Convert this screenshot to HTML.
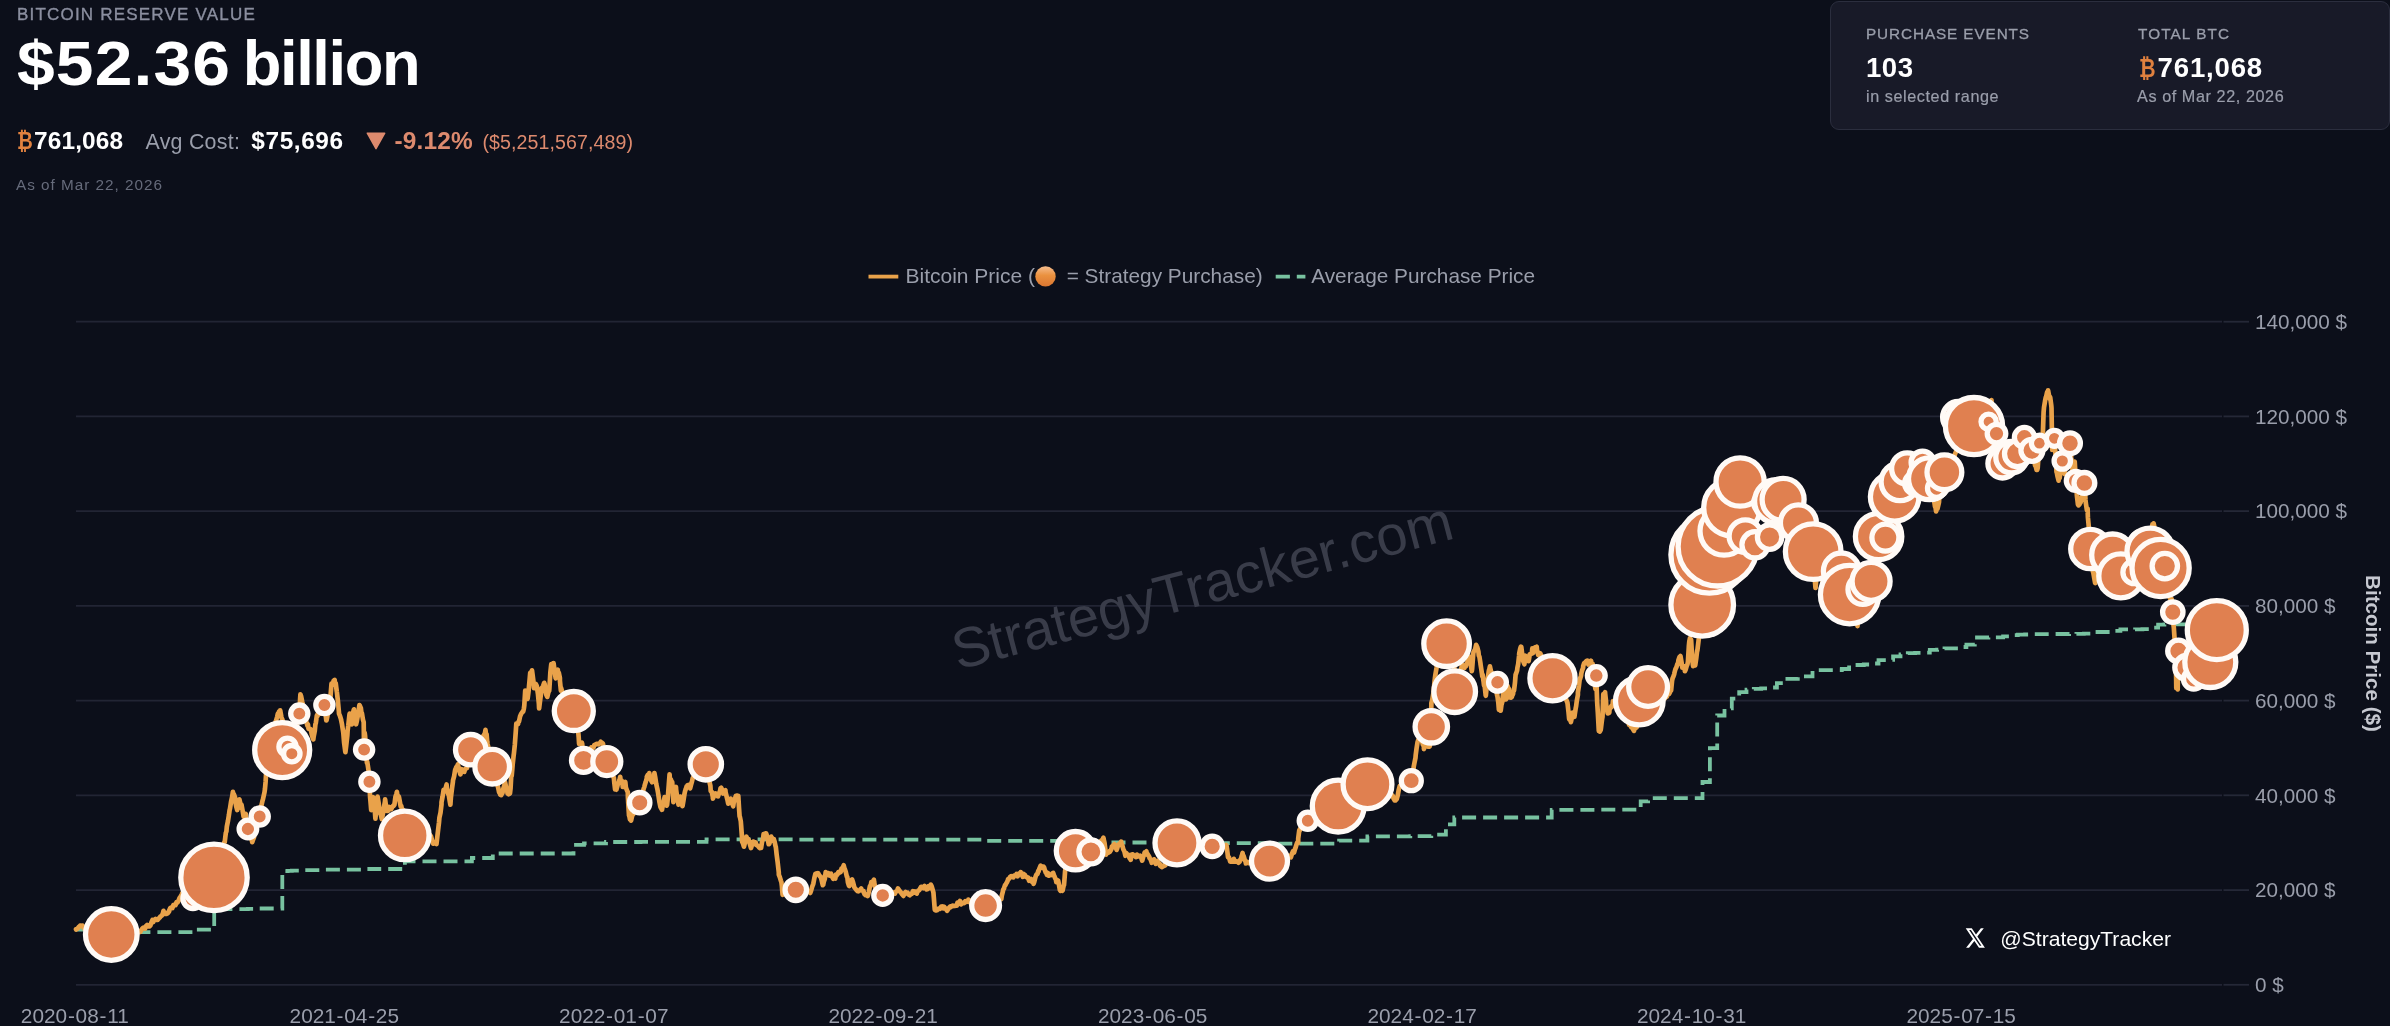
<!DOCTYPE html><html><head><meta charset="utf-8"><title>Bitcoin Reserve Value</title><style>
*{margin:0;padding:0;box-sizing:border-box}
html,body{width:2390px;height:1026px;overflow:hidden;background:#0c0f1a}
body{font-family:"Liberation Sans",sans-serif;position:relative;color:#fff}
.abs{position:absolute;white-space:nowrap;line-height:1}
.lbl{left:16.5px;top:5.6px;font-size:17px;color:#8b8fa0;letter-spacing:1.2px;-webkit-text-stroke:.35px #8b8fa0}
.big{left:17.2px;top:32.4px;font-size:63.3px;font-weight:700;color:#fff}
.row{left:0;top:126.5px;font-size:24.4px;color:#fff;height:28px}
.row span{position:absolute;top:0;line-height:28px}
.asof{left:16.4px;top:176.8px;font-size:15.3px;color:#666b7b;letter-spacing:.98px}
.card{position:absolute;left:1830px;top:1px;width:559.5px;height:129px;background:#181a28;border:1.5px solid #2b2e3e;border-radius:9px}
.c1{font-size:15.3px;color:#9a9eab;letter-spacing:.9px;-webkit-text-stroke:.3px #9a9eab}
.c2{font-size:27.6px;font-weight:700;color:#fff}
.c3{font-size:16.2px;color:#9a9eab;letter-spacing:.58px;-webkit-text-stroke:.2px #9a9eab}
svg{position:absolute;left:0;top:0;will-change:transform}
.abs{will-change:transform}
</style></head><body>
<div class="abs lbl">BITCOIN RESERVE VALUE</div>
<div class="abs big"><span style="display:inline-block;transform:scaleX(1.07);transform-origin:0 50%;letter-spacing:1.1px">$52.36</span><span style="position:absolute;left:225.8px;top:0;letter-spacing:-1.42px">billion</span></div>
<div class="abs row"><span style="left:16.8px;color:#e0813f;font-weight:700;font-size:23px;display:inline-block;transform:scaleX(.84);transform-origin:0 50%">&#8383;</span><span style="left:34px;font-weight:700;letter-spacing:.15px">761,068</span><span style="left:145.5px;color:#9a9eab;font-size:21.4px;letter-spacing:.25px;top:1px">Avg Cost:</span><span style="left:251.3px;font-weight:700;letter-spacing:.6px">$75,696</span><span style="left:394.5px;color:#dd8a6e;font-weight:700;letter-spacing:.2px">-9.12%</span><span style="left:482.5px;color:#dd8a6e;font-size:19.6px;letter-spacing:.08px;top:1px">($5,251,567,489)</span></div>
<div class="abs asof">As of Mar 22, 2026</div>
<div class="card"></div>
<div class="abs c1" style="left:1866.3px;top:26px">PURCHASE EVENTS</div>
<div class="abs c2" style="left:1865.6px;top:53.8px;letter-spacing:.5px">103</div>
<div class="abs c3" style="left:1866.3px;top:88.4px">in selected range</div>
<div class="abs c1" style="left:2137.5px;top:26px;letter-spacing:1.1px">TOTAL BTC</div>
<div class="abs c2" style="left:2138.5px;top:53.8px"><span style="color:#e0813f;font-size:26px;display:inline-block;transform:scaleX(.78);transform-origin:0 50%">&#8383;</span><span style="position:absolute;left:18.6px;top:0;letter-spacing:.8px">761,068</span></div>
<div class="abs c3" style="left:2137.3px;top:88.4px;letter-spacing:.58px">As of Mar 22, 2026</div>
<svg width="2390" height="1026" viewBox="0 0 2390 1026" font-family="Liberation Sans, sans-serif">
<path d="M367.3 133.2 L384.7 133.2 L376 148.6 Z" fill="#dd8a6e" stroke="#dd8a6e" stroke-width="1.5" stroke-linejoin="round"/>
<line x1="76.0" x2="2222.0" y1="984.8" y2="984.8" stroke="#222534" stroke-width="1.8"/>
<line x1="2223.5" x2="2249" y1="984.8" y2="984.8" stroke="#252837" stroke-width="1.8"/>
<text x="2255" y="992.1" font-size="20.7" fill="#9a9eab">0 $</text>
<line x1="76.0" x2="2222.0" y1="890.1" y2="890.1" stroke="#222534" stroke-width="1.8"/>
<line x1="2223.5" x2="2249" y1="890.1" y2="890.1" stroke="#252837" stroke-width="1.8"/>
<text x="2255" y="897.4" font-size="20.7" fill="#9a9eab">20,000 $</text>
<line x1="76.0" x2="2222.0" y1="795.3" y2="795.3" stroke="#222534" stroke-width="1.8"/>
<line x1="2223.5" x2="2249" y1="795.3" y2="795.3" stroke="#252837" stroke-width="1.8"/>
<text x="2255" y="802.6" font-size="20.7" fill="#9a9eab">40,000 $</text>
<line x1="76.0" x2="2222.0" y1="700.6" y2="700.6" stroke="#222534" stroke-width="1.8"/>
<line x1="2223.5" x2="2249" y1="700.6" y2="700.6" stroke="#252837" stroke-width="1.8"/>
<text x="2255" y="707.9" font-size="20.7" fill="#9a9eab">60,000 $</text>
<line x1="76.0" x2="2222.0" y1="605.9" y2="605.9" stroke="#222534" stroke-width="1.8"/>
<line x1="2223.5" x2="2249" y1="605.9" y2="605.9" stroke="#252837" stroke-width="1.8"/>
<text x="2255" y="613.2" font-size="20.7" fill="#9a9eab">80,000 $</text>
<line x1="76.0" x2="2222.0" y1="511.1" y2="511.1" stroke="#222534" stroke-width="1.8"/>
<line x1="2223.5" x2="2249" y1="511.1" y2="511.1" stroke="#252837" stroke-width="1.8"/>
<text x="2255" y="518.4" font-size="20.7" fill="#9a9eab">100,000 $</text>
<line x1="76.0" x2="2222.0" y1="416.4" y2="416.4" stroke="#222534" stroke-width="1.8"/>
<line x1="2223.5" x2="2249" y1="416.4" y2="416.4" stroke="#252837" stroke-width="1.8"/>
<text x="2255" y="423.7" font-size="20.7" fill="#9a9eab">120,000 $</text>
<line x1="76.0" x2="2222.0" y1="321.7" y2="321.7" stroke="#222534" stroke-width="1.8"/>
<line x1="2223.5" x2="2249" y1="321.7" y2="321.7" stroke="#252837" stroke-width="1.8"/>
<text x="2255" y="329.0" font-size="20.7" fill="#9a9eab">140,000 $</text>
<text x="74.8" y="1022.9" font-size="20.8" fill="#9a9eab" text-anchor="middle">2020<tspan dx=".75">-</tspan><tspan dx=".75">08</tspan><tspan dx=".75">-</tspan><tspan dx=".75">11</tspan></text>
<text x="344.3" y="1022.9" font-size="20.8" fill="#9a9eab" text-anchor="middle">2021<tspan dx=".75">-</tspan><tspan dx=".75">04</tspan><tspan dx=".75">-</tspan><tspan dx=".75">25</tspan></text>
<text x="613.8" y="1022.9" font-size="20.8" fill="#9a9eab" text-anchor="middle">2022<tspan dx=".75">-</tspan><tspan dx=".75">01</tspan><tspan dx=".75">-</tspan><tspan dx=".75">07</tspan></text>
<text x="883.2" y="1022.9" font-size="20.8" fill="#9a9eab" text-anchor="middle">2022<tspan dx=".75">-</tspan><tspan dx=".75">09</tspan><tspan dx=".75">-</tspan><tspan dx=".75">21</tspan></text>
<text x="1152.7" y="1022.9" font-size="20.8" fill="#9a9eab" text-anchor="middle">2023<tspan dx=".75">-</tspan><tspan dx=".75">06</tspan><tspan dx=".75">-</tspan><tspan dx=".75">05</tspan></text>
<text x="1422.2" y="1022.9" font-size="20.8" fill="#9a9eab" text-anchor="middle">2024<tspan dx=".75">-</tspan><tspan dx=".75">02</tspan><tspan dx=".75">-</tspan><tspan dx=".75">17</tspan></text>
<text x="1691.7" y="1022.9" font-size="20.8" fill="#9a9eab" text-anchor="middle">2024<tspan dx=".75">-</tspan><tspan dx=".75">10</tspan><tspan dx=".75">-</tspan><tspan dx=".75">31</tspan></text>
<text x="1961.2" y="1022.9" font-size="20.8" fill="#9a9eab" text-anchor="middle">2025<tspan dx=".75">-</tspan><tspan dx=".75">07</tspan><tspan dx=".75">-</tspan><tspan dx=".75">15</tspan></text>
<text transform="translate(2365.5,653.5) rotate(90)" text-anchor="middle" font-size="20.6" font-weight="700" fill="#c6c8d0">Bitcoin Price ($)</text>
<line x1="868.5" x2="898.3" y1="276.6" y2="276.6" stroke="#e9a24a" stroke-width="3.8"/>
<text x="905.5" y="283.2" font-size="21" fill="#9a9eab">Bitcoin Price (</text>
<defs><linearGradient id="og" x1="0" y1="0" x2="0" y2="1"><stop offset="0" stop-color="#f6bd8e"/><stop offset=".45" stop-color="#ea913f"/><stop offset="1" stop-color="#db7631"/></linearGradient></defs>
<circle cx="1045.5" cy="276.4" r="10.2" fill="url(#og)"/>
<text x="1066.7" y="283.2" font-size="20.8" fill="#9a9eab">= Strategy Purchase)</text>
<path d="M1275.7 276.7 H1289.9 M1296.8 276.7 H1305.4" stroke="#78c2a0" stroke-width="3.8"/>
<text x="1311.2" y="283.2" font-size="20.8" fill="#9a9eab">Average Purchase Price</text>
<text transform="translate(1207,604) rotate(-14.85)" text-anchor="middle" font-size="56.1" fill="#393c49">StrategyTracker.com</text>
<polyline points="76.0,929.6 111.6,929.6 111.6,932.2 196.4,932.2 196.4,929.7 214.2,929.7 214.2,909.2 247.8,909.2 247.8,908.9 259.3,908.9 259.3,908.5 282.3,908.5 282.3,871.2 287.6,871.2 287.6,870.8 291.8,870.8 291.8,870.6 299.1,870.6 299.1,870.1 324.2,870.1 324.2,869.7 364.0,869.7 364.0,869.2 369.3,869.2 369.3,869.0 404.9,869.0 404.9,861.3 471.9,861.3 471.9,858.0 492.8,858.0 492.8,853.5 573.5,853.5 573.5,844.9 584.0,844.9 584.0,843.4 606.0,843.4 606.0,842.0 640.5,842.0 640.5,841.8 706.5,841.8 706.5,839.4 795.5,839.4 795.5,839.6 882.5,839.6 882.5,839.7 986.1,839.7 986.1,840.8 1075.2,840.8 1075.2,842.4 1088.8,842.4 1088.8,842.5 1176.8,842.5 1176.8,843.2 1212.4,843.2 1212.4,843.2 1270.0,843.2 1270.0,843.7 1308.7,843.7 1308.7,843.7 1339.1,843.7 1339.1,840.6 1367.4,840.6 1367.4,836.3 1410.3,836.3 1410.3,836.1 1431.3,836.1 1431.3,834.6 1445.9,834.6 1445.9,824.4 1454.3,824.4 1454.3,817.5 1498.3,817.5 1498.3,817.5 1551.7,817.5 1551.7,809.8 1595.7,809.8 1595.7,809.7 1640.7,809.7 1640.7,801.4 1648.1,801.4 1648.1,798.2 1702.5,798.2 1702.5,782.0 1709.9,782.0 1709.9,748.1 1717.2,748.1 1717.2,715.5 1724.5,715.5 1724.5,708.4 1731.8,708.4 1731.8,698.7 1739.2,698.7 1739.2,692.1 1746.5,692.1 1746.5,689.6 1753.8,689.6 1753.8,688.8 1761.2,688.8 1761.2,688.4 1768.5,688.4 1768.5,687.5 1776.9,687.5 1776.9,683.2 1783.2,683.2 1783.2,678.9 1797.8,678.9 1797.8,676.4 1812.5,676.4 1812.5,670.2 1834.5,670.2 1834.5,670.2 1841.8,670.2 1841.8,669.0 1849.1,669.0 1849.1,665.0 1863.8,665.0 1863.8,664.5 1871.1,664.5 1871.1,663.5 1878.5,663.5 1878.5,660.2 1885.8,660.2 1885.8,659.8 1893.1,659.8 1893.1,656.3 1900.5,656.3 1900.5,654.3 1907.8,654.3 1907.8,653.1 1915.1,653.1 1915.1,652.9 1922.5,652.9 1922.5,652.6 1929.8,652.6 1929.8,649.8 1937.1,649.8 1937.1,649.7 1944.5,649.7 1944.5,648.3 1959.1,648.3 1959.1,647.0 1966.4,647.0 1966.4,644.7 1974.8,644.7 1974.8,637.5 1988.4,637.5 1988.4,637.4 1995.8,637.4 1995.8,637.3 2003.1,637.3 2003.1,636.3 2011.5,636.3 2011.5,635.2 2017.8,635.2 2017.8,634.6 2025.1,634.6 2025.1,634.5 2032.4,634.5 2032.4,634.2 2039.8,634.2 2039.8,634.1 2054.4,634.1 2054.4,634.0 2061.8,634.0 2061.8,634.0 2069.1,634.0 2069.1,633.9 2076.4,633.9 2076.4,633.8 2083.8,633.8 2083.8,633.7 2091.1,633.7 2091.1,632.0 2105.7,632.0 2105.7,632.0 2113.1,632.0 2113.1,630.8 2120.4,630.8 2120.4,629.4 2135.1,629.4 2135.1,629.3 2142.4,629.3 2142.4,629.2 2149.7,629.2 2149.7,627.6 2158.1,627.6 2158.1,624.7 2164.4,624.7 2164.4,624.4 2171.7,624.4 2171.7,624.3 2179.1,624.3 2179.1,624.3 2187.4,624.3 2187.4,624.5 2193.7,624.5 2193.7,624.5 2201.1,624.5 2201.1,624.7 2208.4,624.7 2208.4,625.3 2215.7,625.3 2215.7,626.0 2222.0,626.0" fill="none" stroke="#78c2a0" stroke-width="3.8" stroke-dasharray="14 7"/>
<polyline points="76.0,929.2 76.1,929.5 77.0,929.0 78.1,927.8 79.1,926.7 79.3,926.9 80.2,925.6 81.2,925.5 82.3,926.4 82.5,925.6 83.3,927.1 84.4,928.7 85.4,929.3 85.7,928.8 86.5,929.1 87.5,928.2 88.6,925.8 88.9,926.9 89.6,927.3 90.7,928.1 91.7,928.7 92.8,927.2 93.8,926.7 94.9,927.5 95.9,928.5 96.9,929.8 98.0,930.3 98.6,930.7 99.0,931.2 100.1,930.6 101.1,931.3 102.2,931.9 103.2,931.3 104.3,933.2 105.3,933.2 106.4,933.8 107.4,932.7 108.5,932.1 109.5,932.4 110.6,932.8 111.4,933.3 111.6,933.7 112.7,933.7 113.7,933.1 114.8,932.4 115.8,932.4 116.8,934.0 117.9,932.9 118.9,933.3 120.0,933.7 121.0,932.2 122.1,932.8 123.1,934.3 124.2,932.0 124.3,933.3 125.2,932.3 126.3,932.6 127.3,932.1 128.4,932.9 129.4,932.8 130.5,931.4 131.5,932.7 132.6,933.1 133.6,933.5 134.7,934.1 135.7,933.3 136.7,932.7 137.8,931.1 138.8,932.0 139.9,931.3 140.4,931.7 140.9,930.6 142.0,929.0 143.0,928.0 144.1,927.5 144.2,928.5 145.1,928.7 146.2,925.9 147.2,924.9 148.3,925.6 148.4,926.2 149.3,926.5 150.4,925.5 151.4,922.4 152.5,919.9 153.2,922.1 153.5,920.9 154.6,920.0 155.6,918.9 156.5,919.8 156.6,919.9 157.7,919.9 158.7,918.6 159.8,917.6 160.3,916.6 160.8,916.3 161.9,915.6 162.9,913.3 163.5,910.8 164.0,912.5 165.0,913.7 166.1,913.0 166.1,914.0 167.1,913.6 168.2,912.8 169.2,911.3 169.3,910.2 170.3,908.0 171.3,907.4 172.4,908.0 172.5,907.6 173.4,905.1 174.4,904.8 175.5,905.2 175.8,904.4 176.5,902.1 177.6,902.4 178.6,900.6 179.6,897.9 179.7,898.1 180.7,896.3 181.8,894.7 182.2,893.1 182.8,893.2 183.9,893.4 184.9,891.4 186.0,890.3 187.0,890.9 188.1,889.8 189.1,888.1 190.2,888.8 191.2,889.2 192.3,887.2 193.3,884.9 194.3,884.8 195.0,885.1 195.4,884.4 196.4,883.6 197.5,884.6 198.5,882.3 199.6,883.1 200.6,880.5 201.7,879.5 202.7,880.1 203.8,880.5 204.7,878.6 204.8,880.0 205.9,879.4 206.9,878.8 208.0,878.5 209.0,878.7 210.1,877.9 211.1,877.9 212.2,878.1 213.2,877.5 213.7,877.0 214.2,876.8 215.3,874.8 216.3,874.1 217.4,870.9 218.4,867.5 219.2,865.8 219.5,864.2 220.5,860.2 221.6,857.1 222.4,852.9 222.6,851.6 223.7,846.1 224.3,842.2 224.7,842.3 225.8,833.0 226.4,831.5 226.8,826.8 227.9,821.3 228.9,815.2 229.6,810.1 230.0,808.7 231.0,802.0 232.1,797.1 232.9,791.9 233.1,793.1 234.1,794.7 235.0,797.2 235.2,801.2 236.2,806.3 237.2,810.1 237.3,809.5 238.3,804.1 239.3,799.4 239.4,799.4 240.4,803.7 241.4,807.9 241.5,804.7 242.5,810.2 243.6,816.7 243.6,816.5 244.6,814.2 245.7,813.8 245.7,814.4 246.7,822.1 247.8,830.0 247.9,829.4 248.8,834.5 249.9,834.5 250.9,837.7 252.0,840.9 252.2,842.2 253.0,839.8 254.0,837.4 255.1,830.0 255.4,831.5 256.1,827.9 257.2,820.9 258.2,817.3 259.3,810.3 259.7,810.1 260.3,807.3 261.4,805.6 262.4,801.2 262.9,799.4 263.5,796.8 264.5,792.3 265.0,788.6 265.6,781.7 266.1,773.6 266.6,770.7 267.7,766.3 268.2,760.8 268.7,760.3 269.8,752.3 270.8,749.4 271.5,741.5 271.9,739.6 272.9,735.2 273.9,728.4 274.7,724.3 275.0,723.6 276.0,720.9 277.1,717.1 277.9,713.6 278.1,714.8 279.2,711.3 280.0,712.5 280.2,710.3 281.3,716.5 282.2,720.0 282.3,719.2 283.4,723.9 284.3,730.8 284.4,728.2 285.5,736.5 286.5,742.2 287.5,745.8 287.6,748.3 288.6,747.6 289.7,749.6 290.7,750.1 291.8,753.9 291.8,753.7 292.8,749.1 293.8,739.1 294.9,733.9 295.0,730.8 295.9,729.5 297.0,723.8 298.0,716.3 299.1,715.5 299.3,713.6 300.1,699.5 300.4,694.3 301.2,696.6 302.2,701.8 302.5,702.9 303.3,707.9 304.3,716.0 304.7,715.7 305.4,717.2 306.4,721.8 307.5,725.9 307.9,724.3 308.5,728.8 309.6,728.8 310.6,729.2 311.1,730.8 311.7,734.1 312.7,737.8 313.3,739.3 313.7,736.5 314.8,730.9 315.4,724.3 315.8,723.2 316.9,715.4 317.6,715.7 317.9,713.6 319.0,711.3 320.0,713.7 320.8,713.6 321.1,713.2 322.1,709.7 323.2,707.6 324.2,706.5 324.4,705.0 325.3,711.6 326.3,720.5 326.6,720.0 327.4,716.0 328.4,710.6 329.3,702.9 329.5,705.0 330.5,696.3 331.5,683.6 331.6,684.2 332.6,684.9 333.6,680.8 334.7,679.9 334.7,682.5 335.7,683.0 336.8,691.6 336.9,692.2 337.8,700.1 338.9,711.6 339.0,713.6 339.9,715.7 341.0,719.2 341.1,720.0 342.0,724.3 343.1,731.5 343.3,732.9 344.1,742.8 345.2,751.0 345.4,752.2 346.2,745.6 347.3,735.8 347.6,730.8 348.3,725.5 349.4,715.0 349.7,713.6 350.4,715.5 351.5,723.1 351.9,724.3 352.5,717.9 353.5,710.8 354.0,709.3 354.6,714.1 355.6,722.2 356.1,724.3 356.7,721.7 357.7,716.3 358.8,709.4 359.4,705.0 359.8,705.6 360.9,708.2 361.5,713.6 361.9,713.1 363.0,719.8 363.7,722.2 364.0,744.9 364.1,749.6 364.7,732.9 365.1,736.1 366.1,750.6 366.9,762.9 367.2,761.6 368.2,768.2 369.0,773.6 369.3,776.1 369.4,781.8 370.1,797.2 370.3,799.3 371.2,810.1 371.3,805.9 372.4,801.7 373.3,797.2 373.4,797.4 374.5,806.3 375.4,818.7 375.5,817.4 376.6,807.9 377.6,799.4 377.6,796.7 378.7,803.5 379.7,811.5 379.7,812.2 380.8,814.5 381.8,819.0 381.9,818.7 382.9,813.8 383.9,807.7 385.0,801.1 385.1,799.4 386.0,806.0 387.1,810.9 387.2,810.1 388.1,810.8 389.2,806.9 390.2,808.3 390.5,807.9 391.2,809.1 392.3,807.1 393.3,805.6 393.7,805.8 394.4,804.9 395.4,797.0 396.5,793.6 396.9,791.9 397.5,796.5 398.6,796.3 399.0,797.2 399.6,800.5 400.7,806.5 401.2,805.8 401.7,808.0 402.8,810.1 403.3,810.1 403.8,820.1 404.8,835.4 404.9,835.0 405.9,834.1 407.0,833.5 408.0,833.2 409.1,831.6 410.1,830.1 411.1,827.9 412.2,827.1 413.0,827.2 413.2,828.2 414.3,829.3 415.3,829.4 416.4,830.2 417.4,835.3 418.5,836.5 419.5,837.2 420.6,834.6 421.5,838.0 421.6,837.7 422.7,838.0 423.7,839.3 424.8,838.3 425.8,837.1 426.9,837.1 427.9,834.1 429.0,835.9 430.0,835.7 430.1,835.1 431.0,836.4 432.1,840.3 433.1,843.7 433.9,842.7 434.2,842.5 435.2,842.5 436.3,843.8 436.5,844.0 437.3,836.9 438.4,827.4 439.0,822.5 439.4,817.8 440.5,812.7 441.5,804.5 441.5,802.2 442.6,796.5 443.6,789.9 444.1,789.5 444.7,789.6 445.7,788.1 446.6,784.5 446.8,788.3 447.8,792.8 448.9,795.7 449.1,797.1 449.9,802.0 450.4,804.7 450.9,797.4 452.0,788.4 452.9,781.9 453.0,780.4 454.1,776.4 455.1,770.1 455.5,769.2 456.2,767.3 457.2,766.1 458.0,764.2 458.3,765.9 459.3,770.5 460.4,774.4 460.5,774.3 461.4,770.7 461.8,769.2 462.5,770.9 463.5,771.5 464.3,771.8 464.6,770.6 465.6,768.7 466.7,767.8 466.9,768.0 467.7,763.6 468.8,759.0 469.8,754.0 470.7,749.7 470.8,749.9 471.9,749.0 472.9,746.8 474.0,747.8 475.0,748.8 476.1,748.1 477.0,746.4 477.1,746.5 478.2,745.4 479.2,742.1 480.3,738.5 481.3,738.7 482.4,736.6 483.4,737.0 484.5,733.9 484.6,735.0 485.5,729.9 485.9,733.8 486.6,734.4 487.2,741.4 487.6,744.2 488.7,748.6 489.7,752.2 490.7,757.4 491.8,764.4 492.2,766.7 492.8,769.3 493.9,772.7 494.9,777.9 496.0,781.1 497.0,783.5 498.1,787.3 499.1,792.3 499.8,792.1 500.2,794.6 501.2,795.1 502.3,793.0 502.4,793.3 503.3,788.7 504.4,785.1 504.9,781.9 505.4,783.9 506.5,789.5 507.4,792.1 507.5,793.4 508.6,794.3 509.6,793.7 510.0,793.3 510.6,787.9 511.2,776.8 511.7,775.8 512.7,764.4 513.8,754.0 513.8,754.4 514.8,745.0 515.9,729.9 516.3,723.6 516.9,724.8 518.0,724.1 518.8,721.1 519.0,721.5 520.1,716.2 521.1,714.0 521.4,713.5 522.2,712.3 523.2,711.6 523.9,708.4 524.3,705.4 525.2,690.7 525.3,692.0 526.4,695.9 527.4,698.9 527.7,698.3 528.5,691.8 529.5,680.9 530.2,672.9 530.5,672.4 531.6,672.0 532.0,670.4 532.6,674.7 533.7,683.6 534.0,688.2 534.7,686.8 535.8,683.9 536.6,685.6 536.8,686.1 537.9,693.6 538.9,704.1 539.1,708.4 540.0,701.1 541.0,693.8 541.6,688.2 542.1,687.8 543.1,686.1 544.2,682.8 544.7,684.3 545.2,689.0 546.3,694.7 546.7,695.8 547.3,696.9 548.4,692.2 549.2,690.7 549.4,688.3 550.4,672.0 551.3,664.1 551.5,664.1 552.5,666.2 553.6,665.3 553.6,663.2 554.6,671.0 555.6,678.0 555.7,678.3 556.7,673.2 557.8,669.7 558.1,672.9 558.8,672.6 559.9,678.0 559.9,680.5 560.9,690.7 560.9,687.5 562.0,691.0 563.0,693.7 564.1,696.5 565.1,698.7 566.2,701.8 567.2,703.6 568.2,701.6 569.3,702.9 570.3,703.5 571.4,704.7 572.4,707.6 573.5,709.9 573.8,711.0 574.5,715.0 575.6,717.7 576.6,722.3 577.7,729.0 578.4,733.8 578.7,737.4 579.1,743.9 579.8,743.1 580.8,743.5 581.9,742.7 582.2,743.9 582.9,753.7 583.5,760.4 584.0,760.3 585.0,758.4 586.1,755.9 587.1,754.7 588.1,749.9 589.2,749.3 589.8,751.5 590.2,749.7 591.3,747.4 592.3,748.0 593.4,747.7 594.4,744.9 595.5,744.6 596.5,743.8 597.4,743.9 597.6,744.0 598.6,744.3 599.7,743.3 600.4,742.6 600.7,741.8 601.8,742.7 602.8,743.4 603.0,743.9 603.9,748.9 604.9,753.7 606.0,757.2 606.8,761.6 607.0,760.1 608.0,763.2 609.1,765.4 610.1,767.3 611.2,770.8 612.2,773.2 613.3,776.4 613.9,778.1 614.3,782.8 615.1,789.5 615.4,788.7 616.4,789.7 617.5,785.7 617.7,784.5 618.5,783.7 619.6,779.7 620.2,776.8 620.6,780.4 621.7,780.5 622.7,785.0 622.7,787.0 623.8,784.4 624.8,783.4 625.3,781.9 625.9,787.4 626.9,790.3 627.8,792.1 627.9,797.0 629.0,815.5 629.1,814.9 630.0,819.6 630.8,819.9 631.1,820.6 632.1,816.1 632.4,814.9 633.2,814.3 634.2,810.9 635.3,811.0 636.3,807.5 637.4,806.5 638.4,807.4 639.5,804.0 639.7,802.7 640.5,800.4 641.6,797.9 642.6,793.5 643.7,788.5 644.3,787.0 644.7,785.3 645.8,781.8 646.8,778.1 646.8,776.8 647.8,774.9 648.9,775.8 649.3,773.0 649.9,778.2 651.0,780.2 651.9,781.9 652.0,782.3 653.1,777.6 654.1,775.8 654.4,773.0 655.2,777.1 656.2,783.8 656.9,787.0 657.3,788.7 658.3,794.3 659.4,801.9 659.5,802.2 660.4,806.8 661.5,808.9 662.0,809.8 662.5,806.9 663.6,802.9 664.6,797.1 664.6,797.6 665.7,800.9 666.7,805.6 667.1,804.7 667.7,799.1 668.8,784.6 669.6,774.3 669.8,778.1 670.9,779.5 671.9,782.9 672.2,781.9 673.0,795.1 673.4,802.2 674.0,798.4 675.1,790.0 676.0,787.0 676.1,789.4 677.2,797.7 678.2,802.4 678.5,804.7 679.3,799.5 680.0,798.6 680.3,796.6 681.4,802.8 682.4,805.3 682.5,806.2 683.5,800.3 684.5,793.8 685.1,791.0 685.6,789.6 686.6,786.4 687.6,785.9 687.6,785.3 688.7,784.9 689.7,787.0 690.1,788.4 690.8,785.7 691.8,782.2 692.7,778.3 692.9,778.0 693.9,775.8 695.0,775.5 696.0,774.0 697.1,775.3 698.1,774.3 699.2,772.0 700.2,770.0 701.3,768.1 702.3,766.4 703.4,765.8 704.4,765.7 705.5,765.4 705.8,764.3 706.5,768.4 707.5,775.5 708.6,777.8 709.6,782.5 710.4,785.9 710.7,790.9 711.7,791.8 712.8,796.8 712.9,798.6 713.8,796.6 714.9,794.8 715.5,793.5 715.9,794.5 717.0,794.9 718.0,796.0 718.0,796.4 719.1,793.1 720.1,790.8 720.5,788.4 721.2,787.8 722.2,789.8 723.1,793.5 723.3,792.5 724.3,791.2 725.4,790.3 725.6,792.2 726.4,795.6 727.4,799.6 728.2,803.6 728.5,803.3 729.5,801.9 730.6,799.6 730.7,798.6 731.6,802.4 732.7,804.9 733.2,806.2 733.7,802.6 734.8,799.2 735.8,796.0 735.8,796.3 736.9,795.5 737.9,795.7 738.3,796.0 739.0,807.6 739.6,816.3 740.0,817.4 740.8,821.4 741.1,825.2 742.1,839.1 742.1,841.5 743.2,844.1 743.9,846.7 744.2,845.7 745.3,841.1 746.3,838.7 746.4,836.6 747.3,838.9 748.4,840.6 748.4,839.1 749.4,842.6 750.5,846.3 751.0,848.0 751.5,846.5 752.6,841.9 753.5,841.6 753.6,842.5 754.7,844.1 755.7,842.5 756.0,844.2 756.8,845.1 757.8,845.9 758.6,846.7 758.9,847.3 759.9,848.0 761.0,846.5 761.1,848.0 762.0,842.1 763.1,838.5 763.6,834.0 764.1,834.2 765.1,833.6 766.2,835.3 766.2,833.4 767.2,836.8 768.3,842.1 768.7,844.2 769.3,843.8 770.4,840.3 771.2,836.6 771.4,837.6 772.5,840.7 773.5,839.6 773.8,839.1 774.6,841.7 775.6,846.5 775.8,846.7 776.7,855.0 777.6,861.9 777.7,862.7 778.8,872.4 778.8,874.6 779.8,877.1 780.9,880.7 781.4,882.2 781.9,886.3 782.6,894.9 783.0,894.0 784.0,893.5 785.0,894.0 786.1,893.4 787.1,893.0 788.2,892.3 789.2,893.2 790.3,893.7 791.3,891.9 792.4,892.1 793.4,890.4 794.5,890.2 795.5,890.6 795.8,889.8 796.6,891.7 797.6,890.5 798.7,890.4 799.7,890.7 800.8,889.3 801.8,890.2 802.9,890.1 803.9,891.1 804.9,890.2 806.0,889.1 807.0,890.7 808.1,891.7 809.1,891.4 810.2,892.9 810.5,892.3 811.2,890.2 812.3,886.4 813.0,884.7 813.3,883.8 814.4,877.9 815.4,873.8 815.6,874.6 816.5,873.5 817.5,874.2 818.1,873.3 818.6,874.1 819.6,875.9 820.6,877.1 820.7,876.6 821.7,880.4 822.8,885.1 823.2,884.7 823.8,881.7 824.8,878.9 825.7,872.1 825.9,872.6 826.9,872.9 828.0,873.5 828.3,873.3 829.0,875.3 830.1,874.4 830.8,875.9 831.1,873.7 832.2,876.7 833.2,878.9 833.3,878.4 834.3,877.9 835.3,878.5 835.9,874.6 836.4,875.7 837.4,874.0 838.4,872.1 838.5,873.4 839.5,871.9 840.6,872.1 841.6,868.5 842.2,868.3 842.7,868.0 843.7,865.2 844.7,869.5 844.7,868.7 845.8,872.0 846.8,876.5 847.3,877.1 847.9,882.3 848.9,885.6 849.3,886.0 850.0,884.5 851.0,881.2 851.8,879.7 852.1,879.4 853.1,882.5 854.2,886.9 854.4,887.3 855.2,888.4 856.3,889.8 857.3,890.8 857.4,891.1 858.4,891.3 859.4,890.6 860.5,889.3 861.2,888.5 861.5,889.8 862.6,890.8 863.6,891.1 863.7,892.3 864.6,894.2 865.7,895.2 866.7,894.8 867.5,896.1 867.8,896.0 868.8,892.0 869.9,886.3 870.9,884.7 871.3,882.2 872.0,882.4 873.0,881.8 873.9,879.7 874.1,881.7 875.1,887.4 875.1,887.3 876.2,886.9 877.2,889.8 878.3,890.8 879.3,891.5 880.4,893.1 881.4,894.1 882.5,895.8 882.7,895.4 883.5,895.1 884.5,894.8 885.6,892.5 886.6,893.0 887.7,894.1 888.7,895.1 889.8,893.7 890.8,893.2 891.9,894.5 892.9,893.0 894.0,893.3 894.1,892.3 895.0,893.5 896.1,891.4 897.1,891.0 897.9,888.5 898.2,888.9 899.2,890.4 900.3,891.6 901.3,893.1 901.7,893.6 902.4,894.6 903.4,895.9 904.4,893.3 905.5,892.1 905.5,892.3 906.5,893.4 907.6,892.8 908.6,894.5 909.3,894.9 909.7,895.2 910.7,893.9 911.8,893.8 912.8,891.3 913.1,892.3 913.9,892.7 914.9,891.5 916.0,891.9 916.9,893.6 917.0,892.3 918.1,890.8 919.1,890.4 920.2,888.5 920.8,887.3 921.2,886.8 922.3,887.2 923.3,888.2 924.3,886.9 924.6,886.0 925.4,887.6 926.4,889.4 927.1,888.5 927.5,889.1 928.5,886.2 929.6,888.1 930.6,888.1 930.9,884.7 931.7,886.5 932.7,889.9 933.4,892.3 933.8,897.2 934.7,908.8 934.8,909.9 935.9,910.5 936.9,910.1 937.2,910.1 938.0,908.7 939.0,908.5 940.1,908.9 941.1,906.6 941.2,907.3 942.2,906.5 943.2,907.7 943.5,908.4 944.2,906.8 945.3,908.4 946.3,909.4 947.0,910.8 947.4,910.4 948.4,908.7 949.5,907.2 950.5,907.3 950.5,906.4 951.6,906.5 952.6,905.7 953.7,905.8 954.0,906.1 954.7,905.9 955.8,905.7 956.8,905.6 957.5,902.6 957.9,902.9 958.9,902.7 960.0,900.9 961.0,904.4 961.1,903.7 962.0,903.0 963.1,902.9 964.1,903.1 964.6,902.6 965.2,901.2 966.2,902.0 967.3,901.6 968.1,901.4 968.3,899.7 969.4,901.2 970.4,902.9 971.5,900.8 972.5,902.6 973.6,903.0 974.6,903.6 975.7,903.9 976.7,905.0 977.8,904.2 978.8,905.0 979.9,904.3 980.9,905.2 981.9,904.3 983.0,904.7 984.0,906.7 985.1,906.6 985.6,905.6 986.1,905.7 987.2,904.0 988.2,903.3 989.3,903.7 990.3,904.4 991.4,903.9 992.4,903.6 993.5,902.7 994.5,903.3 995.6,901.7 996.6,900.6 997.7,901.3 998.7,900.5 999.8,899.6 1000.8,898.7 1001.3,899.1 1001.8,895.7 1002.9,891.4 1003.2,889.7 1003.9,888.7 1005.0,885.1 1005.5,885.0 1006.0,883.9 1007.1,882.0 1007.8,880.4 1008.1,879.0 1009.2,878.7 1010.2,876.8 1010.2,876.7 1011.3,876.1 1012.3,876.8 1013.4,877.4 1013.7,875.7 1014.4,875.5 1015.5,875.5 1016.5,874.0 1017.2,874.5 1017.6,876.3 1018.6,874.0 1019.7,874.3 1020.7,872.1 1020.7,872.2 1021.7,874.0 1022.8,876.9 1023.8,873.9 1024.2,875.7 1024.9,875.0 1025.9,876.8 1027.0,877.4 1027.7,878.0 1028.0,877.5 1029.1,880.8 1030.1,880.5 1031.2,879.1 1031.2,880.4 1032.2,882.1 1033.3,881.8 1033.6,883.9 1034.3,881.7 1035.4,877.2 1035.9,875.7 1036.4,874.6 1037.5,873.9 1038.2,871.0 1038.5,871.4 1039.6,868.1 1040.6,865.6 1041.6,866.7 1041.8,866.3 1042.7,867.7 1043.7,866.8 1044.1,867.5 1044.8,869.9 1045.8,872.7 1046.4,873.3 1046.9,874.8 1047.9,873.0 1048.8,875.7 1049.0,874.4 1050.0,875.2 1051.1,875.1 1052.1,874.8 1052.3,873.3 1053.2,872.9 1054.2,875.9 1055.3,878.5 1055.8,879.2 1056.3,882.1 1057.4,880.2 1058.1,880.4 1058.4,881.7 1059.5,887.8 1059.8,889.7 1060.5,890.9 1061.5,890.5 1062.1,890.9 1062.6,890.5 1063.6,885.8 1064.0,885.0 1064.7,876.6 1065.1,871.0 1065.7,868.1 1066.3,866.3 1066.8,865.4 1067.8,862.9 1068.9,859.8 1069.9,860.2 1071.0,858.5 1072.0,855.9 1073.1,854.4 1074.1,853.7 1075.2,850.1 1075.2,850.6 1076.2,850.2 1077.3,850.9 1078.3,851.1 1079.4,850.2 1080.4,847.8 1081.4,850.4 1082.5,850.5 1082.7,849.9 1083.5,850.4 1084.6,850.2 1085.6,850.8 1086.7,850.5 1087.7,849.8 1088.8,850.0 1089.8,850.3 1090.9,850.6 1090.9,851.8 1091.9,848.9 1093.0,849.5 1094.0,847.0 1095.1,847.4 1096.1,845.1 1097.2,845.0 1098.2,845.5 1099.3,843.8 1100.3,841.4 1101.3,840.5 1101.4,840.6 1102.4,840.2 1103.4,837.7 1103.7,839.4 1104.5,842.7 1105.5,850.6 1106.1,854.6 1106.6,853.4 1107.6,852.8 1108.7,852.7 1109.6,851.1 1109.7,852.0 1110.8,850.3 1111.8,848.0 1111.9,846.4 1112.9,845.8 1113.9,844.6 1114.3,844.1 1115.0,845.6 1116.0,848.0 1116.6,849.9 1117.1,848.6 1118.1,844.9 1118.9,845.3 1119.2,843.8 1120.2,843.4 1121.2,841.6 1121.3,842.9 1122.3,845.3 1123.3,849.4 1123.6,849.9 1124.4,851.4 1125.4,855.8 1126.0,854.6 1126.5,853.3 1127.5,855.1 1128.6,854.8 1129.5,858.1 1129.6,857.9 1130.7,859.8 1131.7,854.5 1132.8,854.3 1133.0,854.6 1133.8,855.5 1134.9,855.7 1135.9,857.1 1136.5,857.0 1137.0,854.6 1138.0,856.4 1139.1,856.5 1140.0,855.8 1140.1,856.2 1141.1,857.5 1142.2,860.6 1142.3,860.5 1143.2,857.0 1144.3,853.7 1144.7,852.3 1145.3,852.4 1146.4,851.3 1147.0,854.6 1147.4,853.8 1148.5,855.7 1149.4,857.0 1149.5,858.0 1150.6,859.4 1151.6,862.3 1151.7,862.8 1152.7,861.9 1153.7,860.2 1154.0,859.3 1154.8,861.5 1155.8,863.9 1156.4,861.6 1156.9,862.3 1157.9,860.8 1158.9,863.4 1159.9,864.0 1160.0,865.7 1161.0,866.5 1162.1,867.1 1163.1,866.2 1163.4,866.3 1164.2,865.0 1165.0,865.1 1165.2,865.4 1166.3,862.1 1167.3,858.6 1168.4,856.8 1169.4,858.7 1170.5,857.9 1171.5,853.6 1172.6,850.6 1173.6,849.2 1174.7,846.4 1175.7,846.3 1176.8,843.7 1177.0,842.9 1177.8,841.7 1178.8,843.5 1179.9,842.1 1180.9,842.2 1182.0,841.9 1183.0,841.3 1184.1,841.6 1185.1,840.5 1186.2,838.6 1187.2,837.2 1188.0,840.6 1188.3,837.7 1189.3,839.1 1190.4,840.8 1191.4,841.9 1192.5,843.3 1193.5,843.7 1194.6,843.2 1195.6,843.3 1196.7,842.1 1197.3,845.3 1197.7,844.1 1198.7,846.2 1199.8,847.6 1200.8,848.0 1201.7,848.5 1201.9,848.4 1202.9,849.3 1204.0,848.5 1205.0,848.9 1206.1,848.8 1207.1,848.2 1208.2,849.0 1209.2,847.2 1210.3,846.5 1211.3,845.6 1211.9,846.5 1212.4,845.1 1213.4,847.4 1214.5,848.6 1215.5,847.1 1216.6,847.0 1217.6,847.5 1218.6,847.2 1219.7,847.5 1220.7,844.8 1221.8,844.2 1222.2,845.0 1222.8,845.2 1223.9,846.9 1224.9,846.2 1226.0,845.0 1226.5,845.6 1227.0,848.8 1228.0,857.3 1228.1,856.4 1229.1,857.6 1230.2,861.5 1230.9,861.7 1231.2,861.2 1232.3,860.3 1233.3,861.6 1233.9,858.8 1234.4,861.6 1235.4,861.7 1236.5,861.3 1236.8,861.7 1237.5,861.8 1238.5,862.7 1239.6,861.8 1239.7,860.2 1240.6,859.9 1241.7,856.3 1242.6,852.9 1242.7,854.3 1243.8,856.6 1244.8,860.1 1245.6,861.7 1245.9,863.5 1246.9,861.6 1248.0,862.5 1248.5,863.2 1249.0,863.2 1250.1,862.4 1251.1,862.3 1252.2,863.4 1253.2,865.1 1254.3,864.3 1255.3,863.6 1256.4,861.3 1257.4,863.8 1258.4,863.0 1259.5,862.4 1260.5,860.9 1261.6,861.4 1262.6,860.4 1263.7,861.1 1264.7,861.8 1265.8,861.6 1266.8,861.7 1267.9,860.5 1268.9,862.4 1269.5,861.1 1270.0,860.9 1271.0,858.8 1272.1,859.6 1273.1,859.2 1274.2,858.6 1275.2,859.0 1276.3,859.7 1277.3,858.4 1278.3,858.8 1279.4,860.5 1280.4,860.4 1281.5,859.4 1282.5,859.1 1283.6,858.6 1284.6,858.4 1285.7,859.0 1286.7,858.3 1287.8,855.4 1288.8,856.5 1289.9,856.0 1290.9,857.3 1290.9,857.2 1292.0,853.6 1292.9,851.5 1293.0,851.2 1294.1,852.4 1295.1,848.6 1295.3,848.5 1296.2,845.5 1297.2,842.5 1298.2,842.7 1298.2,838.6 1299.3,830.1 1299.6,831.0 1300.3,828.3 1301.1,828.1 1301.4,826.5 1302.4,823.9 1303.5,822.6 1304.5,823.7 1305.6,822.0 1306.6,821.1 1307.7,820.9 1307.8,820.8 1308.7,822.0 1309.8,822.9 1310.8,822.1 1311.9,820.4 1312.9,819.5 1314.0,820.8 1315.0,820.6 1316.1,818.3 1317.1,817.9 1318.1,817.3 1318.7,816.4 1319.2,816.2 1320.2,814.4 1321.3,812.0 1322.3,811.3 1323.4,809.2 1324.4,810.9 1325.5,810.3 1326.5,807.4 1327.4,807.6 1327.6,808.8 1328.6,809.0 1329.7,805.7 1330.7,808.7 1331.8,808.7 1332.8,810.1 1333.9,806.7 1334.9,807.2 1336.0,807.2 1337.0,806.9 1338.0,806.6 1338.2,806.1 1339.1,807.2 1340.1,804.1 1341.2,802.8 1342.2,801.7 1343.3,802.0 1344.3,801.8 1345.4,802.6 1346.4,802.6 1347.5,802.1 1347.9,801.8 1348.5,800.2 1349.6,798.6 1350.6,798.9 1351.7,798.0 1352.7,796.0 1353.8,793.9 1354.8,794.4 1355.8,791.3 1356.7,790.1 1356.9,790.8 1357.9,791.2 1359.0,789.3 1360.0,789.5 1361.1,786.8 1362.1,788.0 1363.2,787.2 1364.2,784.3 1365.3,785.5 1366.3,783.8 1367.4,785.4 1367.5,784.2 1368.4,784.1 1369.5,784.3 1370.5,785.1 1371.6,784.8 1372.6,785.6 1373.7,785.0 1374.7,786.5 1375.7,786.4 1376.8,786.8 1377.8,783.3 1378.9,786.8 1379.9,787.1 1380.1,787.1 1381.0,785.5 1382.0,787.6 1383.1,789.3 1384.1,791.3 1385.2,789.8 1386.2,792.8 1387.3,792.5 1388.3,795.8 1388.8,793.0 1389.4,794.8 1390.4,796.0 1391.5,795.8 1392.5,795.4 1393.6,798.5 1394.6,800.2 1394.7,798.8 1395.6,800.4 1396.7,799.0 1397.6,795.9 1397.7,795.7 1398.8,789.5 1399.8,785.8 1399.9,787.1 1400.9,785.0 1401.9,784.3 1403.0,785.4 1404.0,785.2 1405.1,784.1 1406.1,783.8 1407.2,782.9 1408.2,782.7 1409.3,782.9 1410.3,783.0 1411.3,780.7 1411.4,780.5 1412.4,772.4 1413.5,769.0 1413.7,766.7 1414.5,762.6 1415.5,757.7 1415.7,755.0 1416.6,748.1 1417.6,741.9 1418.1,740.4 1418.7,739.3 1419.7,736.5 1420.8,735.9 1421.0,737.4 1421.8,740.2 1422.9,744.7 1423.9,746.2 1423.9,749.1 1425.0,745.8 1426.0,743.3 1426.8,744.7 1427.1,744.7 1428.1,746.6 1429.2,746.7 1429.8,746.2 1430.2,733.0 1431.3,707.1 1431.4,702.8 1432.3,699.7 1433.2,694.0 1433.4,693.7 1434.4,682.8 1434.9,678.2 1435.4,674.7 1436.5,668.1 1437.5,658.7 1437.5,658.9 1438.6,652.3 1439.6,650.8 1440.7,648.3 1441.1,646.7 1441.7,646.5 1442.8,647.2 1443.8,644.8 1444.9,644.3 1445.9,643.3 1446.7,643.5 1447.0,643.3 1448.0,642.8 1449.1,637.9 1450.1,638.0 1450.7,632.6 1451.2,639.6 1452.2,644.8 1453.3,650.3 1454.2,653.7 1454.3,664.0 1454.7,691.8 1455.3,690.5 1456.4,684.7 1457.4,678.1 1457.7,678.2 1458.5,675.9 1459.5,674.5 1460.6,670.9 1461.6,667.2 1462.1,664.2 1462.7,665.3 1463.7,666.8 1464.7,667.7 1464.8,665.6 1465.8,666.3 1466.9,663.1 1467.4,662.5 1467.9,659.9 1469.0,658.3 1470.0,658.9 1470.0,656.8 1471.1,666.7 1471.8,671.2 1472.1,669.2 1473.2,654.5 1473.5,651.9 1474.2,651.0 1475.2,649.1 1476.1,644.9 1476.3,645.4 1477.3,647.3 1478.4,651.6 1478.8,655.4 1479.4,656.7 1480.5,663.6 1480.5,664.2 1481.5,670.5 1482.3,676.5 1482.6,674.6 1483.6,682.0 1484.0,685.3 1484.7,686.3 1485.7,695.4 1485.8,695.8 1486.8,686.2 1487.5,681.8 1487.8,678.0 1488.9,670.4 1489.3,669.5 1489.9,666.4 1490.2,667.7 1491.0,671.3 1491.9,673.0 1492.0,675.2 1493.1,680.0 1494.1,684.4 1494.6,685.3 1495.1,685.8 1496.2,690.2 1497.2,695.8 1497.2,694.6 1498.3,702.4 1498.9,709.8 1499.3,709.8 1500.4,709.4 1500.7,710.7 1501.4,705.1 1502.5,701.1 1502.5,698.7 1503.5,691.7 1504.2,692.3 1504.6,692.8 1505.6,699.5 1506.0,699.3 1506.7,695.3 1507.7,686.0 1507.7,687.0 1508.8,688.8 1509.5,697.5 1509.8,695.6 1510.9,697.6 1511.9,696.8 1512.1,695.8 1513.0,694.2 1513.9,688.8 1514.0,690.7 1515.0,682.4 1515.6,674.7 1516.1,673.5 1517.1,670.6 1517.4,667.7 1518.2,664.1 1519.1,655.4 1519.2,653.4 1520.3,648.3 1520.9,646.7 1521.3,647.0 1522.4,655.7 1522.6,658.9 1523.4,661.6 1524.4,664.2 1524.5,662.3 1525.5,655.7 1526.1,657.2 1526.6,658.3 1527.6,660.9 1527.9,660.7 1528.7,661.0 1529.6,655.4 1529.7,654.4 1530.8,653.8 1531.8,653.6 1532.3,648.4 1532.9,653.2 1533.9,649.8 1534.9,647.5 1534.9,648.8 1536.0,647.3 1536.7,646.7 1537.0,649.9 1538.1,654.8 1538.4,653.7 1539.1,655.4 1540.2,653.3 1541.1,655.4 1541.2,656.2 1542.3,657.3 1543.3,660.7 1544.4,662.8 1545.4,667.0 1546.5,669.3 1547.5,669.0 1548.6,671.3 1549.6,675.6 1550.7,675.2 1551.7,677.7 1552.5,678.2 1552.7,680.9 1553.8,683.1 1554.8,683.8 1555.9,682.2 1556.9,682.4 1558.0,685.6 1559.0,688.1 1560.1,693.3 1561.1,691.3 1562.1,692.3 1562.2,694.3 1563.2,696.5 1564.3,695.0 1565.3,696.8 1566.4,700.2 1567.4,702.8 1567.4,702.2 1568.5,712.0 1569.1,718.6 1569.5,719.7 1570.6,720.5 1570.9,722.1 1571.6,718.7 1572.6,713.3 1572.6,712.6 1573.7,714.3 1574.4,716.8 1574.7,714.9 1575.8,707.7 1576.1,706.3 1576.8,700.8 1577.9,694.8 1577.9,692.3 1578.9,686.1 1579.6,680.0 1580.0,679.0 1581.0,675.7 1581.4,673.0 1582.1,670.3 1583.1,667.8 1583.2,666.0 1584.2,663.0 1585.2,662.9 1585.8,661.6 1586.3,661.1 1587.3,660.6 1588.4,664.5 1588.4,662.5 1589.4,661.4 1590.5,663.7 1591.1,660.7 1591.5,663.8 1592.5,667.0 1592.8,664.2 1593.6,671.5 1594.6,683.2 1595.4,688.8 1595.7,688.0 1596.3,675.6 1596.7,689.9 1597.2,702.8 1597.8,712.0 1598.8,731.0 1598.9,729.1 1599.9,731.5 1600.7,730.0 1600.9,728.6 1602.0,719.7 1602.5,716.8 1603.0,702.4 1603.3,694.0 1604.1,693.9 1605.1,692.3 1605.1,693.1 1606.0,701.1 1606.2,705.2 1607.2,710.5 1607.7,713.3 1608.3,713.3 1609.3,712.7 1609.5,709.8 1610.4,707.8 1611.2,706.3 1611.4,707.2 1612.4,706.0 1613.0,701.1 1613.5,701.3 1614.5,701.4 1615.6,702.4 1616.6,702.4 1617.7,706.6 1618.7,706.0 1619.8,709.9 1620.8,713.8 1621.8,713.3 1621.9,712.0 1622.9,713.9 1624.0,713.3 1625.0,717.7 1626.1,718.4 1627.1,720.2 1628.2,722.3 1629.2,724.8 1630.3,725.5 1631.3,727.1 1631.4,727.4 1632.3,727.8 1633.4,729.8 1634.0,730.9 1634.4,728.6 1635.5,728.3 1636.5,724.5 1636.7,727.4 1637.6,716.1 1638.6,709.6 1639.3,701.1 1639.7,701.4 1640.7,697.3 1641.8,696.8 1642.8,693.9 1643.9,690.6 1644.9,689.5 1646.0,690.4 1647.0,689.3 1648.1,687.1 1648.1,687.0 1649.1,686.6 1650.2,686.6 1651.2,690.8 1652.2,691.5 1653.3,690.5 1654.3,688.9 1655.4,689.8 1656.4,696.4 1657.5,694.5 1658.5,695.7 1659.6,697.2 1660.6,697.8 1661.7,698.4 1662.1,699.3 1662.7,696.6 1663.8,695.5 1664.8,698.6 1665.9,696.0 1666.9,696.7 1668.0,692.9 1669.0,692.8 1669.1,694.0 1670.1,692.0 1670.9,690.5 1671.1,690.4 1672.1,680.6 1672.6,678.2 1673.2,677.0 1674.2,674.2 1674.4,673.0 1675.3,669.5 1676.1,667.7 1676.3,667.7 1677.4,664.0 1677.9,664.2 1678.4,660.3 1679.5,657.0 1679.6,657.2 1680.5,656.1 1681.6,662.6 1682.3,667.7 1682.6,665.6 1683.7,666.1 1684.7,668.8 1684.9,671.2 1685.8,669.2 1686.8,665.6 1687.5,664.2 1687.9,661.9 1688.9,645.5 1689.3,641.4 1690.0,638.1 1691.0,641.0 1691.1,639.6 1692.0,654.8 1692.8,664.2 1693.1,666.2 1694.1,663.8 1695.2,665.3 1695.4,664.2 1696.2,658.7 1697.2,650.2 1697.3,651.0 1698.3,642.9 1698.9,637.9 1699.4,635.8 1700.4,622.8 1701.5,610.6 1702.2,604.8 1702.5,596.2 1703.6,582.7 1704.0,575.0 1704.6,571.6 1705.7,566.4 1706.7,562.0 1707.8,558.8 1708.8,553.7 1709.4,554.7 1709.9,548.4 1710.9,538.2 1711.9,528.2 1713.0,517.3 1713.0,520.0 1714.0,524.8 1715.1,530.6 1716.1,537.6 1717.2,544.4 1717.6,546.5 1718.2,543.3 1719.3,532.1 1720.3,526.5 1721.0,525.0 1721.4,523.0 1722.4,528.0 1723.5,527.0 1724.1,531.1 1724.5,526.7 1725.6,523.3 1726.6,519.3 1727.7,517.7 1728.0,515.0 1728.7,513.4 1729.8,513.4 1730.8,507.6 1731.8,503.2 1731.9,507.6 1732.9,506.1 1733.9,504.8 1735.0,503.3 1736.0,500.0 1736.0,500.7 1737.1,496.6 1738.1,488.8 1739.2,487.1 1740.1,482.0 1740.2,483.0 1741.3,499.0 1742.3,512.0 1743.0,520.0 1743.4,518.5 1744.4,523.2 1745.5,532.8 1746.2,536.2 1746.5,535.6 1747.6,533.2 1748.6,532.4 1749.6,529.8 1750.0,530.0 1750.7,530.9 1751.7,535.3 1752.8,539.2 1753.8,545.4 1754.4,544.4 1754.9,544.2 1755.9,543.6 1757.0,541.3 1757.0,536.0 1758.0,541.6 1759.1,540.5 1760.1,538.3 1760.2,536.0 1761.2,538.3 1762.2,538.4 1763.3,538.0 1764.0,540.0 1764.3,539.2 1765.4,537.9 1766.4,541.3 1767.5,540.6 1768.5,538.1 1768.8,537.9 1769.5,525.4 1770.6,514.9 1771.6,502.6 1772.0,500.0 1772.7,497.4 1773.7,497.0 1774.8,494.9 1775.8,499.7 1776.3,501.4 1776.9,500.4 1777.9,505.6 1779.0,502.7 1780.0,500.9 1781.1,503.1 1782.1,501.4 1783.1,499.4 1783.2,500.4 1784.2,497.5 1785.3,494.8 1786.3,497.0 1787.4,496.1 1788.0,492.0 1788.4,499.6 1789.4,503.6 1790.5,510.2 1791.5,515.4 1792.0,520.0 1792.6,521.5 1793.6,518.6 1794.7,521.3 1795.7,523.9 1796.8,525.9 1797.8,522.5 1798.4,522.9 1798.9,525.1 1799.9,522.9 1801.0,522.0 1802.0,520.6 1803.1,524.9 1804.1,528.0 1805.2,525.2 1806.0,525.0 1806.2,524.5 1807.3,528.4 1808.3,537.7 1809.3,541.2 1810.4,541.9 1811.4,542.1 1812.5,546.4 1813.2,551.6 1813.5,557.9 1814.6,577.3 1815.5,588.0 1815.6,587.8 1816.7,574.1 1817.7,561.8 1818.0,560.0 1818.8,559.1 1819.8,567.1 1820.9,569.5 1821.0,572.0 1821.9,579.0 1823.0,582.4 1824.0,588.5 1825.1,597.8 1826.0,605.0 1826.1,603.1 1827.2,603.8 1828.2,601.9 1829.2,598.1 1830.3,598.6 1831.3,598.3 1832.4,592.5 1833.4,593.6 1833.4,595.5 1834.5,592.3 1835.5,589.7 1836.6,582.3 1837.6,579.3 1838.7,577.0 1839.7,576.9 1840.8,570.7 1841.4,571.0 1841.8,570.1 1842.9,571.9 1843.9,578.2 1845.0,584.3 1845.0,585.0 1846.0,583.9 1847.1,586.8 1848.1,591.2 1849.1,596.3 1849.6,594.6 1850.2,597.7 1851.2,597.1 1852.3,596.1 1853.3,596.8 1854.0,600.0 1854.4,600.3 1855.4,608.8 1856.5,616.1 1857.5,626.1 1857.6,624.0 1858.6,605.5 1859.0,595.0 1859.6,593.0 1860.7,594.8 1861.7,593.8 1862.8,591.1 1862.9,589.5 1863.8,587.9 1864.9,584.0 1865.9,583.1 1867.0,585.5 1868.0,583.0 1869.0,580.4 1870.1,581.3 1871.1,581.3 1871.1,580.5 1872.2,561.6 1873.0,545.0 1873.2,546.4 1874.3,546.5 1875.3,541.4 1876.4,541.7 1877.4,537.2 1878.5,537.5 1878.6,536.5 1879.5,537.4 1880.6,537.6 1881.6,539.2 1882.7,538.1 1883.7,539.8 1884.8,540.3 1885.4,537.6 1885.8,534.9 1886.9,522.0 1887.9,509.9 1888.9,498.8 1889.0,500.0 1890.0,498.2 1891.0,498.3 1892.1,503.9 1893.1,501.5 1894.2,500.3 1894.7,496.8 1895.2,495.0 1896.3,490.8 1897.3,488.0 1898.4,486.2 1899.4,481.3 1900.0,481.8 1900.5,481.0 1901.5,471.7 1902.6,467.1 1903.0,462.0 1903.6,459.1 1904.7,462.8 1905.7,465.9 1906.8,468.0 1907.3,468.5 1907.8,473.0 1908.8,479.5 1909.9,485.8 1910.9,488.2 1911.0,492.0 1912.0,487.0 1913.0,481.7 1914.1,484.2 1915.1,483.4 1915.2,483.3 1916.2,489.8 1917.2,495.7 1918.0,503.0 1918.3,498.6 1919.3,493.9 1920.4,486.5 1921.4,474.3 1922.5,466.4 1922.5,462.5 1923.5,466.7 1924.6,469.8 1925.6,477.6 1926.0,483.0 1926.7,479.0 1927.7,478.3 1928.7,478.8 1929.4,478.8 1929.8,486.4 1930.8,486.5 1931.9,490.7 1932.9,495.6 1933.0,495.0 1934.0,500.0 1935.0,506.7 1935.4,506.5 1936.1,511.5 1937.1,507.8 1937.5,508.6 1938.2,505.8 1939.0,502.2 1939.2,499.1 1940.3,487.4 1941.0,478.0 1941.3,474.6 1942.4,470.8 1943.4,467.0 1944.4,472.2 1944.5,470.1 1945.5,469.8 1946.5,468.4 1947.6,461.8 1948.0,466.0 1948.6,462.1 1949.7,460.7 1950.7,457.8 1951.8,456.8 1952.8,458.8 1953.6,458.0 1953.9,458.1 1954.9,454.3 1956.0,451.8 1956.8,448.0 1957.0,443.3 1958.1,424.9 1958.5,417.3 1959.1,419.2 1960.2,423.6 1961.2,426.0 1962.0,428.0 1962.3,427.9 1963.3,427.9 1964.4,426.9 1965.4,432.7 1966.0,428.7 1966.4,431.1 1967.5,429.2 1968.5,431.7 1969.6,430.2 1970.0,424.0 1970.6,423.5 1971.7,426.0 1972.7,427.8 1973.8,431.1 1974.0,426.1 1974.8,433.3 1975.9,434.7 1976.9,432.6 1978.0,433.7 1978.0,436.0 1979.0,441.0 1980.1,447.9 1981.0,452.0 1981.1,449.8 1982.2,445.8 1983.2,441.6 1984.0,440.0 1984.3,438.4 1985.3,435.3 1986.3,430.3 1987.4,423.7 1988.4,423.8 1988.6,421.8 1989.5,419.2 1990.5,408.9 1991.5,400.0 1991.6,404.6 1992.6,423.2 1992.8,424.0 1993.7,428.8 1994.7,431.2 1995.8,431.0 1996.5,433.6 1996.8,436.9 1997.9,446.2 1998.9,450.7 1999.0,452.0 2000.0,442.4 2000.5,431.0 2001.0,445.5 2002.1,462.8 2002.5,463.4 2003.1,471.8 2004.2,471.7 2005.2,470.7 2006.0,471.0 2006.2,469.8 2007.3,465.8 2008.3,464.5 2009.4,462.1 2010.4,461.1 2011.5,453.6 2011.5,457.2 2012.5,461.5 2013.6,465.7 2014.0,460.0 2014.6,461.6 2015.7,459.6 2016.7,457.3 2017.5,453.7 2017.8,453.8 2018.8,446.9 2019.9,440.9 2020.9,433.6 2021.0,435.0 2022.0,435.2 2023.0,436.2 2024.1,437.7 2024.4,437.4 2025.1,433.8 2026.1,431.8 2027.0,430.0 2027.2,430.6 2028.2,436.4 2029.3,437.8 2030.3,443.9 2031.4,450.3 2031.9,450.3 2032.4,455.1 2033.5,458.1 2034.5,462.0 2035.1,465.7 2035.6,465.8 2036.6,469.9 2037.2,470.0 2037.7,468.0 2038.7,452.9 2039.4,443.2 2039.8,442.6 2040.8,444.1 2041.9,444.7 2042.6,444.3 2042.9,432.9 2043.6,412.2 2044.0,407.4 2045.0,401.3 2045.8,397.1 2046.0,397.5 2047.1,392.2 2047.9,392.9 2048.1,390.3 2049.2,396.3 2050.1,399.3 2050.2,397.2 2051.3,405.6 2051.5,408.0 2052.2,450.0 2052.3,449.6 2053.4,443.6 2054.4,438.3 2054.4,436.5 2055.5,454.5 2056.5,472.2 2056.5,471.1 2057.6,476.7 2058.6,480.7 2058.6,479.0 2059.7,478.0 2060.7,469.6 2060.8,472.0 2061.8,463.4 2062.3,461.0 2062.8,463.3 2063.9,471.8 2064.5,474.0 2064.9,471.3 2065.9,466.8 2067.0,459.3 2067.0,460.0 2068.0,455.4 2069.1,452.5 2070.0,443.2 2070.1,445.7 2071.2,457.3 2072.2,465.8 2072.5,470.0 2073.3,468.4 2074.3,466.1 2074.7,461.5 2075.4,472.6 2076.0,480.0 2076.4,485.8 2076.9,495.8 2077.5,500.7 2077.9,504.3 2078.5,505.4 2079.6,504.2 2080.1,500.0 2080.6,502.7 2081.7,496.7 2082.7,495.9 2083.3,497.9 2083.8,493.5 2084.4,482.9 2084.8,487.4 2085.5,500.0 2085.8,502.9 2086.9,510.1 2087.6,508.6 2087.9,517.4 2088.7,525.8 2089.0,533.4 2090.0,545.1 2090.4,549.0 2091.1,553.3 2092.1,563.3 2093.0,572.0 2093.2,572.1 2094.2,577.9 2095.1,582.9 2095.3,583.1 2096.3,576.8 2097.4,571.7 2098.0,568.0 2098.4,567.5 2099.5,563.3 2100.5,562.8 2101.6,558.0 2102.0,554.0 2102.6,557.5 2103.7,560.4 2104.7,563.1 2105.2,566.0 2105.7,562.3 2106.8,550.6 2107.5,542.0 2107.8,543.2 2108.9,551.4 2109.9,560.5 2110.0,562.0 2111.0,558.0 2112.0,557.9 2112.6,554.9 2113.1,550.4 2114.0,546.0 2114.1,546.7 2115.2,551.1 2116.2,552.9 2117.0,558.0 2117.3,558.4 2118.3,563.6 2119.4,569.8 2120.4,573.5 2120.8,575.9 2121.5,577.1 2122.5,575.3 2123.6,576.2 2124.0,580.0 2124.6,577.9 2125.6,576.1 2126.7,571.4 2127.7,566.2 2128.0,566.0 2128.8,568.4 2129.8,564.7 2130.9,566.0 2131.9,569.8 2133.0,572.0 2134.0,570.5 2134.4,572.2 2135.1,565.9 2136.1,567.2 2137.2,563.5 2138.0,560.0 2138.2,557.7 2139.3,554.1 2140.3,551.5 2141.4,541.4 2141.9,543.2 2142.4,545.0 2143.4,549.6 2144.5,548.2 2145.0,553.0 2145.5,552.8 2146.6,549.2 2147.6,552.7 2148.7,552.8 2149.7,556.0 2150.1,551.3 2150.8,544.3 2151.8,531.5 2152.4,524.4 2152.9,526.2 2153.6,523.3 2153.9,524.9 2155.0,529.6 2155.5,534.0 2156.0,534.9 2157.1,540.1 2158.0,545.0 2158.1,543.6 2159.2,555.1 2160.2,565.4 2160.6,568.0 2161.3,568.2 2162.3,570.5 2163.3,567.7 2164.4,569.1 2164.8,566.1 2165.4,570.9 2166.5,579.4 2167.5,585.0 2167.5,582.5 2168.6,590.0 2169.6,595.9 2169.9,598.1 2170.7,598.1 2171.7,599.2 2172.3,601.6 2172.8,610.3 2172.8,612.1 2173.5,625.0 2173.8,627.4 2174.6,639.1 2174.9,639.0 2175.8,657.8 2175.9,662.0 2176.3,688.2 2177.0,686.6 2177.7,689.4 2178.0,664.7 2178.1,660.0 2178.5,651.0 2179.1,651.9 2180.1,659.3 2181.2,667.5 2182.0,672.0 2182.2,670.2 2183.2,660.6 2184.0,655.0 2184.3,658.1 2185.3,663.3 2186.4,668.2 2186.8,667.5 2187.4,669.3 2188.5,665.4 2189.5,663.0 2190.0,662.0 2190.6,666.5 2191.6,669.4 2192.7,674.1 2193.7,679.0 2193.7,679.3 2194.8,671.9 2195.8,663.3 2196.0,662.0 2196.9,663.5 2197.9,662.4 2199.0,663.3 2200.0,664.3 2201.1,664.1 2201.5,662.0 2202.1,662.0 2203.1,655.5 2204.2,650.3 2205.0,650.0 2205.2,648.4 2206.3,652.7 2207.3,657.6 2208.4,656.8 2209.4,660.1 2210.3,662.0 2210.5,659.8 2211.5,653.9 2212.6,649.0 2213.0,648.0 2213.6,645.6 2214.7,640.7 2215.7,637.4 2216.8,629.6 2216.8,630.1 2217.8,639.5 2218.9,648.9 2219.0,648.0 2219.9,652.3 2221.0,656.3 2222.0,658.9 2222.0,658.6" fill="none" stroke="#e9a24a" stroke-width="4.7" stroke-linejoin="round" stroke-linecap="round"/>
<circle cx="111.3" cy="934.5" r="25.8" fill="#e08050" stroke="#fffaf6" stroke-width="5.3"/>
<circle cx="192.9" cy="898.5" r="10.0" fill="#e08050" stroke="#fffaf6" stroke-width="5.3"/>
<circle cx="214.0" cy="877.4" r="33.2" fill="#e08050" stroke="#fffaf6" stroke-width="5.3"/>
<circle cx="247.9" cy="829.0" r="8.8" fill="#e08050" stroke="#fffaf6" stroke-width="5.3"/>
<circle cx="259.7" cy="816.5" r="8.6" fill="#e08050" stroke="#fffaf6" stroke-width="5.3"/>
<circle cx="282.2" cy="750.1" r="27.5" fill="#e08050" stroke="#fffaf6" stroke-width="5.3"/>
<circle cx="287.5" cy="746.8" r="8.6" fill="#e08050" stroke="#fffaf6" stroke-width="5.3"/>
<circle cx="291.8" cy="753.7" r="8.2" fill="#e08050" stroke="#fffaf6" stroke-width="5.3"/>
<circle cx="299.3" cy="713.6" r="8.6" fill="#e08050" stroke="#fffaf6" stroke-width="5.3"/>
<circle cx="324.4" cy="705.0" r="8.6" fill="#e08050" stroke="#fffaf6" stroke-width="5.3"/>
<circle cx="364.1" cy="749.6" r="8.6" fill="#e08050" stroke="#fffaf6" stroke-width="5.3"/>
<circle cx="369.4" cy="781.8" r="8.6" fill="#e08050" stroke="#fffaf6" stroke-width="5.3"/>
<circle cx="404.8" cy="835.4" r="24.3" fill="#e08050" stroke="#fffaf6" stroke-width="5.3"/>
<circle cx="470.7" cy="749.7" r="15.2" fill="#e08050" stroke="#fffaf6" stroke-width="5.3"/>
<circle cx="492.2" cy="766.7" r="17.3" fill="#e08050" stroke="#fffaf6" stroke-width="5.3"/>
<circle cx="573.8" cy="711.0" r="19.5" fill="#e08050" stroke="#fffaf6" stroke-width="5.3"/>
<circle cx="583.5" cy="760.4" r="12.0" fill="#e08050" stroke="#fffaf6" stroke-width="5.3"/>
<circle cx="606.8" cy="761.6" r="14.0" fill="#e08050" stroke="#fffaf6" stroke-width="5.3"/>
<circle cx="639.7" cy="802.7" r="10.2" fill="#e08050" stroke="#fffaf6" stroke-width="5.3"/>
<circle cx="705.8" cy="764.3" r="15.7" fill="#e08050" stroke="#fffaf6" stroke-width="5.3"/>
<circle cx="795.8" cy="889.8" r="10.7" fill="#e08050" stroke="#fffaf6" stroke-width="5.3"/>
<circle cx="882.7" cy="895.4" r="8.9" fill="#e08050" stroke="#fffaf6" stroke-width="5.3"/>
<circle cx="985.6" cy="905.6" r="13.9" fill="#e08050" stroke="#fffaf6" stroke-width="5.3"/>
<circle cx="1075.5" cy="850.7" r="19.2" fill="#e08050" stroke="#fffaf6" stroke-width="5.3"/>
<circle cx="1090.9" cy="851.8" r="12.0" fill="#e08050" stroke="#fffaf6" stroke-width="5.3"/>
<circle cx="1177.0" cy="842.9" r="22.0" fill="#e08050" stroke="#fffaf6" stroke-width="5.3"/>
<circle cx="1212.2" cy="846.4" r="10.2" fill="#e08050" stroke="#fffaf6" stroke-width="5.3"/>
<circle cx="1269.5" cy="861.1" r="18.0" fill="#e08050" stroke="#fffaf6" stroke-width="5.3"/>
<circle cx="1307.8" cy="820.8" r="8.6" fill="#e08050" stroke="#fffaf6" stroke-width="5.3"/>
<circle cx="1338.2" cy="806.1" r="25.9" fill="#e08050" stroke="#fffaf6" stroke-width="5.3"/>
<circle cx="1367.5" cy="784.2" r="24.4" fill="#e08050" stroke="#fffaf6" stroke-width="5.3"/>
<circle cx="1411.3" cy="780.7" r="10.0" fill="#e08050" stroke="#fffaf6" stroke-width="5.3"/>
<circle cx="1431.3" cy="726.8" r="16.2" fill="#e08050" stroke="#fffaf6" stroke-width="5.3"/>
<circle cx="1446.6" cy="643.7" r="22.8" fill="#e08050" stroke="#fffaf6" stroke-width="5.3"/>
<circle cx="1454.7" cy="691.7" r="20.8" fill="#e08050" stroke="#fffaf6" stroke-width="5.3"/>
<circle cx="1497.5" cy="682.3" r="8.9" fill="#e08050" stroke="#fffaf6" stroke-width="5.3"/>
<circle cx="1552.5" cy="678.2" r="22.6" fill="#e08050" stroke="#fffaf6" stroke-width="5.3"/>
<circle cx="1596.3" cy="675.6" r="8.9" fill="#e08050" stroke="#fffaf6" stroke-width="5.3"/>
<circle cx="1639.3" cy="701.1" r="23.8" fill="#e08050" stroke="#fffaf6" stroke-width="5.3"/>
<circle cx="1648.1" cy="687.0" r="19.4" fill="#e08050" stroke="#fffaf6" stroke-width="5.3"/>
<circle cx="1702.2" cy="604.8" r="31.3" fill="#e08050" stroke="#fffaf6" stroke-width="5.3"/>
<circle cx="1709.4" cy="554.7" r="38.5" fill="#e08050" stroke="#fffaf6" stroke-width="5.3"/>
<circle cx="1717.6" cy="546.5" r="39.5" fill="#e08050" stroke="#fffaf6" stroke-width="5.3"/>
<circle cx="1724.1" cy="531.1" r="24.1" fill="#e08050" stroke="#fffaf6" stroke-width="5.3"/>
<circle cx="1731.9" cy="507.6" r="28.2" fill="#e08050" stroke="#fffaf6" stroke-width="5.3"/>
<circle cx="1740.1" cy="482.0" r="24.1" fill="#e08050" stroke="#fffaf6" stroke-width="5.3"/>
<circle cx="1745.4" cy="536.1" r="16.3" fill="#e08050" stroke="#fffaf6" stroke-width="5.3"/>
<circle cx="1755.0" cy="544.8" r="13.1" fill="#e08050" stroke="#fffaf6" stroke-width="5.3"/>
<circle cx="1762.0" cy="503.0" r="8.5" fill="#e08050" stroke="#fffaf6" stroke-width="5.3"/>
<circle cx="1769.6" cy="537.1" r="12.2" fill="#e08050" stroke="#fffaf6" stroke-width="5.3"/>
<circle cx="1776.3" cy="501.4" r="21.7" fill="#e08050" stroke="#fffaf6" stroke-width="5.3"/>
<circle cx="1783.1" cy="499.4" r="21.0" fill="#e08050" stroke="#fffaf6" stroke-width="5.3"/>
<circle cx="1798.4" cy="522.9" r="18.0" fill="#e08050" stroke="#fffaf6" stroke-width="5.3"/>
<circle cx="1813.2" cy="551.6" r="27.8" fill="#e08050" stroke="#fffaf6" stroke-width="5.3"/>
<circle cx="1833.4" cy="593.6" r="8.5" fill="#e08050" stroke="#fffaf6" stroke-width="5.3"/>
<circle cx="1841.4" cy="571.0" r="18.0" fill="#e08050" stroke="#fffaf6" stroke-width="5.3"/>
<circle cx="1849.6" cy="594.6" r="29.2" fill="#e08050" stroke="#fffaf6" stroke-width="5.3"/>
<circle cx="1862.9" cy="589.5" r="14.9" fill="#e08050" stroke="#fffaf6" stroke-width="5.3"/>
<circle cx="1871.1" cy="581.3" r="19.0" fill="#e08050" stroke="#fffaf6" stroke-width="5.3"/>
<circle cx="1878.6" cy="536.5" r="23.2" fill="#e08050" stroke="#fffaf6" stroke-width="5.3"/>
<circle cx="1885.4" cy="537.6" r="13.5" fill="#e08050" stroke="#fffaf6" stroke-width="5.3"/>
<circle cx="1894.7" cy="496.8" r="24.3" fill="#e08050" stroke="#fffaf6" stroke-width="5.3"/>
<circle cx="1900.0" cy="481.8" r="18.9" fill="#e08050" stroke="#fffaf6" stroke-width="5.3"/>
<circle cx="1907.3" cy="468.5" r="15.7" fill="#e08050" stroke="#fffaf6" stroke-width="5.3"/>
<circle cx="1915.2" cy="483.3" r="10.6" fill="#e08050" stroke="#fffaf6" stroke-width="5.3"/>
<circle cx="1922.5" cy="462.5" r="11.4" fill="#e08050" stroke="#fffaf6" stroke-width="5.3"/>
<circle cx="1929.4" cy="478.8" r="20.9" fill="#e08050" stroke="#fffaf6" stroke-width="5.3"/>
<circle cx="1936.5" cy="488.3" r="9.0" fill="#e08050" stroke="#fffaf6" stroke-width="5.3"/>
<circle cx="1944.4" cy="472.2" r="17.4" fill="#e08050" stroke="#fffaf6" stroke-width="5.3"/>
<circle cx="1958.5" cy="417.3" r="15.9" fill="#e08050" stroke="#fffaf6" stroke-width="5.3"/>
<circle cx="1966.0" cy="428.7" r="17.9" fill="#e08050" stroke="#fffaf6" stroke-width="5.3"/>
<circle cx="1974.0" cy="426.1" r="28.6" fill="#e08050" stroke="#fffaf6" stroke-width="5.3"/>
<circle cx="1988.6" cy="421.8" r="7.6" fill="#e08050" stroke="#fffaf6" stroke-width="5.3"/>
<circle cx="1996.5" cy="433.6" r="9.3" fill="#e08050" stroke="#fffaf6" stroke-width="5.3"/>
<circle cx="2002.5" cy="463.4" r="14.6" fill="#e08050" stroke="#fffaf6" stroke-width="5.3"/>
<circle cx="2011.5" cy="457.2" r="15.7" fill="#e08050" stroke="#fffaf6" stroke-width="5.3"/>
<circle cx="2017.5" cy="453.7" r="13.0" fill="#e08050" stroke="#fffaf6" stroke-width="5.3"/>
<circle cx="2024.4" cy="437.4" r="10.0" fill="#e08050" stroke="#fffaf6" stroke-width="5.3"/>
<circle cx="2031.9" cy="450.3" r="11.0" fill="#e08050" stroke="#fffaf6" stroke-width="5.3"/>
<circle cx="2039.4" cy="443.2" r="8.0" fill="#e08050" stroke="#fffaf6" stroke-width="5.3"/>
<circle cx="2054.4" cy="438.3" r="8.0" fill="#e08050" stroke="#fffaf6" stroke-width="5.3"/>
<circle cx="2062.3" cy="461.0" r="8.2" fill="#e08050" stroke="#fffaf6" stroke-width="5.3"/>
<circle cx="2070.0" cy="443.2" r="10.4" fill="#e08050" stroke="#fffaf6" stroke-width="5.3"/>
<circle cx="2075.8" cy="480.8" r="9.5" fill="#e08050" stroke="#fffaf6" stroke-width="5.3"/>
<circle cx="2084.4" cy="482.9" r="10.4" fill="#e08050" stroke="#fffaf6" stroke-width="5.3"/>
<circle cx="2090.4" cy="549.0" r="19.7" fill="#e08050" stroke="#fffaf6" stroke-width="5.3"/>
<circle cx="2105.2" cy="566.0" r="8.5" fill="#e08050" stroke="#fffaf6" stroke-width="5.3"/>
<circle cx="2112.6" cy="554.9" r="20.9" fill="#e08050" stroke="#fffaf6" stroke-width="5.3"/>
<circle cx="2120.8" cy="575.9" r="22.0" fill="#e08050" stroke="#fffaf6" stroke-width="5.3"/>
<circle cx="2134.4" cy="572.2" r="11.5" fill="#e08050" stroke="#fffaf6" stroke-width="5.3"/>
<circle cx="2141.9" cy="543.2" r="11.9" fill="#e08050" stroke="#fffaf6" stroke-width="5.3"/>
<circle cx="2150.1" cy="551.3" r="23.1" fill="#e08050" stroke="#fffaf6" stroke-width="5.3"/>
<circle cx="2160.6" cy="568.0" r="28.6" fill="#e08050" stroke="#fffaf6" stroke-width="5.3"/>
<circle cx="2164.8" cy="566.1" r="12.7" fill="#e08050" stroke="#fffaf6" stroke-width="5.3"/>
<circle cx="2172.8" cy="612.1" r="10.2" fill="#e08050" stroke="#fffaf6" stroke-width="5.3"/>
<circle cx="2178.5" cy="651.0" r="10.8" fill="#e08050" stroke="#fffaf6" stroke-width="5.3"/>
<circle cx="2186.8" cy="667.5" r="12.0" fill="#e08050" stroke="#fffaf6" stroke-width="5.3"/>
<circle cx="2193.7" cy="679.0" r="10.2" fill="#e08050" stroke="#fffaf6" stroke-width="5.3"/>
<circle cx="2201.5" cy="662.0" r="14.5" fill="#e08050" stroke="#fffaf6" stroke-width="5.3"/>
<circle cx="2210.3" cy="662.0" r="25.5" fill="#e08050" stroke="#fffaf6" stroke-width="5.3"/>
<circle cx="2216.8" cy="630.1" r="29.5" fill="#e08050" stroke="#fffaf6" stroke-width="5.3"/>
<g transform="translate(1964.6,925.9) scale(0.89,1.01)" fill="#fff"><path d="M18.244 2.25h3.308l-7.227 8.26 8.502 11.24H16.17l-5.214-6.817L4.99 21.75H1.68l7.73-8.835L1.254 2.25H8.08l4.713 6.231zm-1.161 17.52h1.833L7.084 4.126H5.117z"/></g>
<text x="2000.3" y="945.6" font-size="21.1" fill="#ffffff">@StrategyTracker</text>
</svg>
</body></html>
